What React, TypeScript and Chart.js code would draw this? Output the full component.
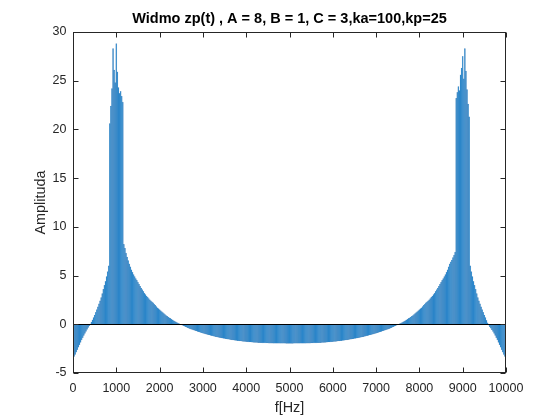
import React, { useEffect, useRef } from "react";
import { Chart, registerables } from "chart.js";

Chart.register(...registerables);

const TITLE = "Widmo zp(t) , A = 8, B = 1, C = 3,ka=100,kp=25";
const X_LABEL = "f[Hz]";
const Y_LABEL = "Amplituda";

// frequency grid step of the spectrum samples (Hz)
const FREQ_STEP = 25;

// amplitude of each spectrum bin (one row = 1000 Hz, 40 bins)
const AMPLITUDES: number[] = [
  // 0 - 975
  -3.5, -3.3, -3.1, -2.85, -2.6, -2.35, -2.1, -1.85, -1.6, -1.37,
  -1.15, -0.93, -0.72, -0.52, -0.32, -0.14, 0.02, 0.23, 0.45, 0.7,
  0.95, 1.22, 1.5, 1.8, 2.1, 2.42, 2.75, 3.15, 3.6, 4.0,
  4.4, 4.9, 5.4, 6.0, 20.6, 22.4, 24.2, 28.3, 26.1, 24.8,
  // 1000 - 1975
  28.8, 25.9, 24.3, 23.7, 23.9, 23.4, 22.8, 8.2, 7.8, 7.3,
  6.9, 6.55, 6.2, 5.9, 5.6, 5.35, 5.1, 4.9, 4.7, 4.5,
  4.3, 4.1, 3.9, 3.72, 3.55, 3.37, 3.2, 3.05, 2.9, 2.77,
  2.65, 2.52, 2.4, 2.3, 2.2, 2.07, 1.95, 1.82, 1.7, 1.6,
  // 2000 - 2975
  1.5, 1.4, 1.3, 1.2, 1.1, 1.0, 0.9, 0.82, 0.75, 0.67,
  0.6, 0.52, 0.45, 0.37, 0.3, 0.24, 0.18, 0.12, 0.06, 0.0,
  -0.05, -0.1, -0.15, -0.2, -0.25, -0.3, -0.35, -0.4, -0.44, -0.49,
  -0.53, -0.57, -0.61, -0.65, -0.69, -0.73, -0.77, -0.8, -0.84, -0.87,
  // 3000 - 3975
  -0.91, -0.94, -0.98, -1.01, -1.04, -1.07, -1.1, -1.13, -1.16, -1.19,
  -1.22, -1.24, -1.27, -1.3, -1.32, -1.35, -1.37, -1.4, -1.42, -1.44,
  -1.46, -1.48, -1.5, -1.52, -1.54, -1.56, -1.58, -1.6, -1.61, -1.63,
  -1.65, -1.66, -1.68, -1.69, -1.71, -1.72, -1.73, -1.75, -1.76, -1.77,
  // 4000 - 4975
  -1.78, -1.79, -1.8, -1.81, -1.82, -1.83, -1.84, -1.85, -1.85, -1.86,
  -1.87, -1.88, -1.88, -1.89, -1.89, -1.9, -1.9, -1.91, -1.91, -1.92,
  -1.92, -1.93, -1.93, -1.93, -1.93, -1.94, -1.94, -1.94, -1.94, -1.95,
  -1.95, -1.95, -1.95, -1.95, -1.95, -1.95, -1.95, -1.96, -1.96, -1.96,
  // 5000 - 5975
  -1.96, -1.96, -1.96, -1.96, -1.95, -1.95, -1.95, -1.95, -1.95, -1.95,
  -1.95, -1.95, -1.94, -1.94, -1.94, -1.94, -1.93, -1.93, -1.93, -1.93,
  -1.92, -1.92, -1.91, -1.91, -1.9, -1.9, -1.89, -1.89, -1.88, -1.88,
  -1.87, -1.86, -1.85, -1.85, -1.84, -1.83, -1.82, -1.81, -1.8, -1.79,
  // 6000 - 6975
  -1.78, -1.77, -1.76, -1.75, -1.73, -1.72, -1.71, -1.69, -1.68, -1.66,
  -1.65, -1.63, -1.61, -1.6, -1.58, -1.56, -1.54, -1.52, -1.5, -1.48,
  -1.46, -1.44, -1.42, -1.4, -1.37, -1.35, -1.32, -1.3, -1.27, -1.24,
  -1.22, -1.19, -1.16, -1.13, -1.1, -1.07, -1.04, -1.01, -0.98, -0.94,
  // 7000 - 7975
  -0.91, -0.87, -0.84, -0.8, -0.77, -0.73, -0.69, -0.65, -0.61, -0.57,
  -0.53, -0.49, -0.44, -0.4, -0.35, -0.3, -0.25, -0.2, -0.15, -0.1,
  -0.05, 0.0, 0.06, 0.12, 0.18, 0.24, 0.3, 0.37, 0.45, 0.52,
  0.6, 0.67, 0.75, 0.82, 0.9, 1.0, 1.1, 1.2, 1.3, 1.4,
  // 8000 - 8975
  1.5, 1.6, 1.7, 1.82, 1.95, 2.07, 2.2, 2.3, 2.4, 2.52,
  2.65, 2.77, 2.9, 3.05, 3.2, 3.37, 3.55, 3.72, 3.9, 4.1,
  4.3, 4.5, 4.7, 4.9, 5.1, 5.35, 5.6, 5.9, 6.2, 6.4,
  6.6, 6.85, 7.1, 7.4, 23.2, 23.8, 24.4, 24.0, 25.6, 26.3,
  // 9000 - 9975
  27.5, 25.2, 28.3, 26.0, 24.1, 22.6, 21.3, 6.0, 5.4, 4.9,
  4.4, 4.0, 3.6, 3.15, 2.75, 2.42, 2.1, 1.8, 1.5, 1.22,
  0.95, 0.7, 0.4, 0.15, -0.08, -0.25, -0.4, -0.56, -0.74, -0.93,
  -1.15, -1.37, -1.6, -1.85, -2.1, -2.35, -2.6, -2.85, -3.1, -3.3,
  // 10000
  -3.45,
];

const X_TICKS = [0, 1000, 2000, 3000, 4000, 5000, 6000, 7000, 8000, 9000, 10000];
const Y_TICKS = [-5, 0, 5, 10, 15, 20, 25, 30];

const FONT = "'Liberation Sans', Arial, Helvetica, sans-serif";
const AXIS_COLOR = "#262626";

const matlabAxes = {
  id: "matlabAxes",
  afterDatasetsDraw(chart: any) {
    const { ctx, chartArea: a, scales } = chart;
    const xs = scales.x;
    const ys = scales.y;
    ctx.save();
    const L = Math.round(a.left) + 0.5;
    const R = Math.round(a.right) - 0.5;
    const T = Math.round(a.top) + 0.5;
    const B = Math.round(a.bottom) - 0.5;
    // bar baseline
    const y0 = Math.round(ys.getPixelForValue(0)) + 0.5;
    ctx.strokeStyle = "#000";
    ctx.lineWidth = 1;
    ctx.beginPath();
    ctx.moveTo(L, y0);
    ctx.lineTo(R, y0);
    ctx.stroke();
    // box
    ctx.strokeStyle = AXIS_COLOR;
    ctx.strokeRect(L, T, R - L, B - T);
    // inward ticks
    const len = 5;
    ctx.beginPath();
    xs.ticks.forEach((t: any) => {
      const px = Math.round(xs.getPixelForValue(t.value)) + 0.5;
      ctx.moveTo(px, B);
      ctx.lineTo(px, B - len);
      ctx.moveTo(px, T);
      ctx.lineTo(px, T + len);
    });
    ys.ticks.forEach((t: any) => {
      const py = Math.round(ys.getPixelForValue(t.value)) + 0.5;
      ctx.moveTo(L, py);
      ctx.lineTo(L + len, py);
      ctx.moveTo(R, py);
      ctx.lineTo(R - len, py);
    });
    ctx.stroke();
    ctx.restore();
  },
};

export default function App() {
  const ref = useRef<HTMLCanvasElement | null>(null);

  useEffect(() => {
    if (!ref.current) return;
    const points = AMPLITUDES.map((v, i) => ({ x: i * FREQ_STEP, y: v }));
    const chart = new Chart(ref.current, {
      type: "bar",
      data: {
        datasets: [
          {
            data: points as any,
            backgroundColor: "#2c88cc",
            borderColor: "rgba(10,80,150,0.45)",
            borderWidth: 0.35,
            borderSkipped: false,
            barPercentage: 1,
            categoryPercentage: 1,
            clip: { left: 0, top: 0, right: 0, bottom: 0 } as any,
          },
        ],
      },
      options: {
        animation: false,
        responsive: false,
        devicePixelRatio: 1,
        layout: { padding: { left: 0, right: 54, top: 0, bottom: 0 } },
        plugins: {
          legend: { display: false },
          tooltip: { enabled: false },
          title: {
            display: true,
            text: TITLE,
            fullSize: false,
            color: "#000",
            font: { family: FONT, size: 14.5, weight: "bold", lineHeight: 1.2 },
            padding: { top: 10, bottom: 4.6 },
          },
        },
        scales: {
          x: {
            type: "linear",
            min: X_TICKS[0],
            max: X_TICKS[X_TICKS.length - 1],
            offset: false,
            grid: { display: false, drawTicks: false },
            border: { display: false },
            afterBuildTicks: (s: any) => {
              s.ticks = X_TICKS.map((v) => ({ value: v }));
            },
            ticks: {
              autoSkip: false,
              maxRotation: 0,
              padding: 8,
              color: AXIS_COLOR,
              font: { family: FONT, size: 12.5 },
              callback: (v: any) => String(v),
            },
            title: {
              display: true,
              text: X_LABEL,
              color: AXIS_COLOR,
              font: { family: FONT, size: 14.4, lineHeight: 1.2 },
              padding: { top: 0, bottom: 3.4 },
            },
            afterFit: (s: any) => {
              s.height = 47;
            },
          },
          y: {
            type: "linear",
            min: Y_TICKS[0],
            max: Y_TICKS[Y_TICKS.length - 1],
            grid: { display: false, drawTicks: false },
            border: { display: false },
            afterBuildTicks: (s: any) => {
              s.ticks = Y_TICKS.map((v) => ({ value: v }));
            },
            ticks: {
              padding: 6.5,
              color: AXIS_COLOR,
              font: { family: FONT, size: 12.5 },
              callback: (v: any) => String(v),
            },
            title: {
              display: true,
              text: Y_LABEL,
              color: AXIS_COLOR,
              font: { family: FONT, size: 14.4, lineHeight: 1.2 },
              padding: { top: 32.4, bottom: 0 },
            },
            afterFit: (s: any) => {
              s.width = 73;
            },
          },
        },
      },
      plugins: [matlabAxes],
    });
    return () => chart.destroy();
  }, []);

  return (
    <div style={{ position: "fixed", left: 0, top: 0, width: 560, height: 420, background: "#fff" }}>
      <canvas ref={ref} width={560} height={420} style={{ width: 560, height: 420 }} />
    </div>
  );
}
